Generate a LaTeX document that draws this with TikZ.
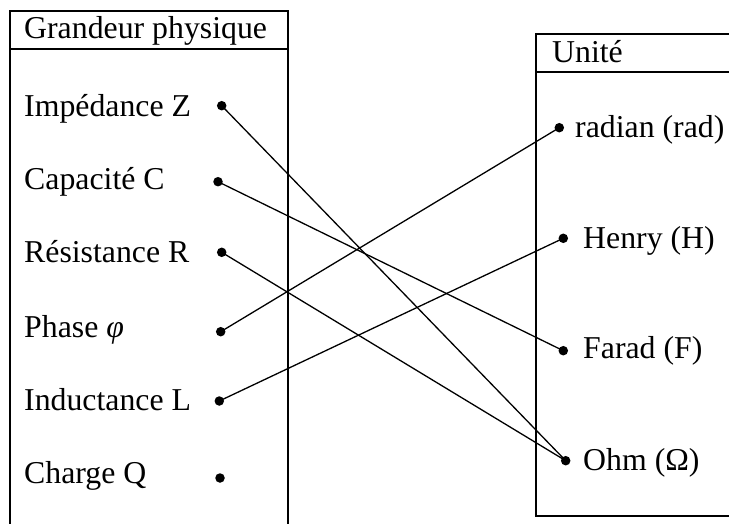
\documentclass[tikz,border=0pt]{standalone}
\usepackage{fontspec}
\setmainfont{Liberation Serif}
\begin{document}
\begin{tikzpicture}[x=1pt,y=-1pt,
  lbl/.style={anchor=base west,inner sep=0pt,font=\fontsize{31.8}{36}\selectfont},
  dot/.style={circle,fill=black,inner sep=0pt,minimum size=9.5pt},
  frame/.style={line width=2pt},
  link/.style={line width=1.3pt}]
\useasboundingbox (0,0) rectangle (729,524);
% left box
\draw[frame] (10,527) -- (10,11) -- (288,11) -- (288,527);
\draw[frame] (10,49) -- (288,49);
% right box
\draw[frame] (732,34) -- (536,34) -- (536,516) -- (732,516);
\draw[frame] (536,72) -- (732,72);
% headers
\node[lbl] (hL) at (24,38.5) {Grandeur physique};
\node[lbl] (hR) at (552,63) {Unité};
% left labels
\node[lbl] (tZ) at (24,116.5) {Impédance Z};
\node[lbl] (tC) at (24,189.5) {Capacité C};
\node[lbl] (tR) at (24,262) {Résistance R};
\node[lbl] (tP) at (24,337) {Phase {\itshape φ}};
\node[lbl] (tL) at (24,410) {Inductance L};
\node[lbl] (tQ) at (24,483) {Charge Q};
% right labels
\node[lbl] (trad) at (575,138) {radian (rad)};
\node[lbl] (tH) at (583,248) {Henry (H)};
\node[lbl] (tF) at (583,358) {Farad (F)};
\node[lbl] (tO) at (583,470) {Ohm (Ω)};
% dots
\node[dot] (dZ) at (221.7,105.7) {};
\node[dot] (dC) at (218,181.7) {};
\node[dot] (dR) at (221.7,252.3) {};
\node[dot] (dP) at (220.7,331.7) {};
\node[dot] (dL) at (219.3,401) {};
\node[dot] (dQ) at (220,478) {};
\node[dot] (drad) at (559.3,127.7) {};
\node[dot] (dH) at (563.3,238.3) {};
\node[dot] (dF) at (563.3,350.7) {};
\node[dot] (dO) at (565.7,460.7) {};
% links
\draw[link] (dZ.center) -- (dO.center);
\draw[link] (dC.center) -- (dF.center);
\draw[link] (dR.center) -- (dO.center);
\draw[link] (dP.center) -- (drad.center);
\draw[link] (dL.center) -- (dH.center);
\end{tikzpicture}
\end{document}
